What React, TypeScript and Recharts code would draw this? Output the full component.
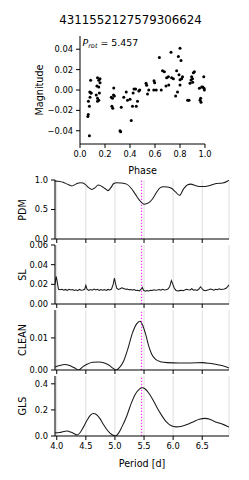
import React from 'react';
import {
  ScatterChart, Scatter, LineChart, Line, XAxis, YAxis, CartesianGrid, ReferenceLine,
} from 'recharts';

// ---------- data ----------
const TITLE = '4311552127579306624';
const P_ROT = 5.457;

const phases = [
  0.075, 0.063, 0.066, 0.067, 0.075, 0.080, 0.085, 0.078, 0.090, 0.087,
  0.140, 0.150, 0.160, 0.135, 0.150, 0.130, 0.140, 0.150, 0.140, 0.160, 0.155,
  0.270, 0.250, 0.260, 0.275, 0.255, 0.262, 0.268,
  0.320, 0.325, 0.330, 0.350, 0.370, 0.380, 0.400, 0.410, 0.420, 0.425, 0.432, 0.445, 0.450, 0.460, 0.470, 0.478,
  0.528, 0.533, 0.540, 0.550, 0.592, 0.597, 0.590, 0.610,
  0.635, 0.650, 0.660, 0.675, 0.688, 0.693, 0.707, 0.728, 0.733, 0.747, 0.710,
  0.765, 0.773, 0.780, 0.787, 0.800, 0.792, 0.800, 0.800, 0.808, 0.813, 0.820,
  0.861, 0.872, 0.880, 0.888, 0.893, 0.901, 0.907, 0.915, 0.900,
  0.955, 0.960, 0.965, 0.968, 0.973, 0.982, 0.990, 0.992, 0.995,
];
const mags = [
  -0.045, -0.026, -0.024, -0.011, -0.016, -0.007, 0.0095, -0.002, -0.003, -0.003,
  0.012, 0.0095, 0.007, 0.004, 0.003, -0.005, -0.008, -0.010, -0.011, 0.011, -0.003,
  0.002, -0.007, -0.008, -0.006, -0.016, -0.018, -0.005,
  -0.040, -0.041, -0.017, -0.007, -0.002, -0.010, -0.009, -0.030, -0.016, -0.003, 0.001, 0.001, -0.016, -0.011, -0.001, 0.000,
  0.0066, 0.0046, -0.004, 0.000, 0.009, 0.007, 0.000, 0.000,
  0.032, 0.000, 0.019, 0.018, 0.004, 0.012, 0.013, 0.037, 0.012, 0.011, 0.005,
  -0.006, 0.019, -0.002, 0.033, 0.041, 0.015, 0.010, 0.005, 0.029, 0.011, 0.013,
  -0.010, -0.010, 0.0066, 0.0098, 0.013, 0.0075, 0.017, 0.018, 0.011,
  0.0016, -0.010, -0.008, -0.012, 0.003, 0.003, 0.013, 0.0016, 0.000,
];

const phaseTicks = [0, 0.2, 0.4, 0.6, 0.8, 1.0];
const magTicks = [-0.04, -0.02, 0, 0.02, 0.04];
const periodTicks = [4.0, 4.5, 5.0, 5.5, 6.0, 6.5];

const pdmPeriods = [3.97, 4.00, 4.05, 4.11, 4.18, 4.26, 4.33, 4.40, 4.45, 4.49, 4.55, 4.60, 4.66, 4.71, 4.76, 4.80, 4.85, 4.88, 4.93, 4.98, 5.03, 5.10, 5.20, 5.28, 5.35, 5.42, 5.50, 5.55, 5.60, 5.66, 5.72, 5.78, 5.83, 5.90, 5.97, 6.04, 6.11, 6.18, 6.25, 6.30, 6.40, 6.51, 6.60, 6.74, 6.85, 6.93, 6.96];
const pdmValues = [0.985, 0.98, 0.975, 0.96, 0.93, 0.90, 0.93, 0.955, 0.95, 0.925, 0.87, 0.84, 0.87, 0.915, 0.90, 0.875, 0.84, 0.82, 0.87, 0.94, 0.955, 0.95, 0.93, 0.86, 0.76, 0.66, 0.59, 0.60, 0.63, 0.70, 0.80, 0.87, 0.885, 0.88, 0.86, 0.80, 0.74, 0.85, 0.92, 0.93, 0.90, 0.89, 0.90, 0.94, 0.95, 0.98, 1.0];

const slPeriods = [3.97, 3.99, 4.01, 4.03, 4.06, 4.09, 4.12, 4.15, 4.18, 4.21, 4.24, 4.27, 4.30, 4.33, 4.36, 4.39, 4.42, 4.45, 4.48, 4.50, 4.52, 4.55, 4.58, 4.61, 4.64, 4.67, 4.70, 4.73, 4.76, 4.79, 4.82, 4.85, 4.88, 4.91, 4.94, 4.97, 4.99, 5.01, 5.03, 5.06, 5.09, 5.12, 5.15, 5.18, 5.21, 5.24, 5.27, 5.30, 5.33, 5.36, 5.39, 5.42, 5.45, 5.47, 5.49, 5.52, 5.55, 5.58, 5.61, 5.64, 5.67, 5.70, 5.73, 5.76, 5.79, 5.82, 5.85, 5.88, 5.91, 5.94, 5.97, 5.99, 6.02, 6.05, 6.08, 6.11, 6.14, 6.17, 6.20, 6.23, 6.26, 6.29, 6.32, 6.35, 6.38, 6.41, 6.44, 6.47, 6.49, 6.52, 6.55, 6.58, 6.61, 6.64, 6.67, 6.70, 6.73, 6.76, 6.79, 6.82, 6.85, 6.88, 6.91, 6.94, 6.96];
const slValues = [0.020, 0.028, 0.022, 0.015, 0.0145, 0.015, 0.014, 0.0148, 0.0138, 0.015, 0.0142, 0.0147, 0.0138, 0.0145, 0.0135, 0.0148, 0.014, 0.0143, 0.0150, 0.0190, 0.0150, 0.0138, 0.0147, 0.0140, 0.0152, 0.0142, 0.0149, 0.0138, 0.0147, 0.0141, 0.0146, 0.0138, 0.0148, 0.0142, 0.0150, 0.0200, 0.0262, 0.0210, 0.0160, 0.0148, 0.0155, 0.0165, 0.0158, 0.0150, 0.0152, 0.0145, 0.0148, 0.0142, 0.0146, 0.0138, 0.0140, 0.0133, 0.0150, 0.0168, 0.0140, 0.0130, 0.0136, 0.0133, 0.0140, 0.0138, 0.0145, 0.0140, 0.0142, 0.0148, 0.0140, 0.0150, 0.0142, 0.0146, 0.0152, 0.0175, 0.0238, 0.0210, 0.0160, 0.0138, 0.0132, 0.0136, 0.0140, 0.0135, 0.0142, 0.0150, 0.0145, 0.0142, 0.0155, 0.0140, 0.0145, 0.0138, 0.0150, 0.0175, 0.0160, 0.0142, 0.0135, 0.0140, 0.0145, 0.0152, 0.0148, 0.0140, 0.0150, 0.0145, 0.0155, 0.0148, 0.0150, 0.0152, 0.0160, 0.0180, 0.0195];

const cleanPeriods = [3.97, 4.05, 4.14, 4.22, 4.30, 4.38, 4.44, 4.52, 4.62, 4.72, 4.82, 4.90, 4.97, 5.02, 5.08, 5.15, 5.22, 5.30, 5.37, 5.43, 5.48, 5.53, 5.58, 5.63, 5.70, 5.78, 5.90, 6.10, 6.30, 6.50, 6.62, 6.75, 6.85, 6.96];
const cleanValues = [0.0009, 0.0014, 0.0017, 0.0014, 0.0007, 0.0000, 0.0009, 0.0018, 0.0024, 0.0025, 0.0022, 0.0015, 0.0005, 0.0000, 0.0008, 0.0028, 0.0065, 0.0115, 0.0143, 0.0152, 0.0138, 0.0110, 0.0075, 0.0050, 0.0033, 0.0026, 0.0023, 0.0022, 0.0022, 0.0023, 0.0021, 0.0017, 0.0013, 0.0006];

const glsPeriods = [3.97, 4.05, 4.12, 4.18, 4.25, 4.30, 4.35, 4.40, 4.46, 4.52, 4.58, 4.63, 4.68, 4.74, 4.80, 4.86, 4.92, 4.97, 5.01, 5.06, 5.12, 5.20, 5.28, 5.35, 5.42, 5.47, 5.52, 5.58, 5.65, 5.72, 5.80, 5.88, 5.96, 6.05, 6.15, 6.25, 6.35, 6.45, 6.55, 6.63, 6.72, 6.82, 6.96];
const glsValues = [0.025, 0.027, 0.035, 0.038, 0.028, 0.018, 0.008, 0.025, 0.07, 0.12, 0.16, 0.172, 0.165, 0.135, 0.09, 0.05, 0.02, 0.005, 0.0, 0.02, 0.07, 0.15, 0.25, 0.32, 0.36, 0.37, 0.36, 0.33, 0.28, 0.22, 0.16, 0.11, 0.08, 0.07, 0.075, 0.09, 0.11, 0.128, 0.135, 0.128, 0.11, 0.095, 0.068];

// ---------- helpers ----------
const FONT = '"DejaVu Sans", "Liberation Sans", sans-serif';
const tickStyle = { fontFamily: FONT, fontSize: 8.3, fill: '#000' };
const fmt = (d: number) => (v: number) => (v < 0 ? '\u2212' : '') + Math.abs(v).toFixed(d);
const blank = () => '';

const scatterData = phases.map((p, i) => ({ phase: p, mag: mags[i] }));
const zip = (ps: number[], vs: number[]) => ps.map((p, i) => ({ p, v: vs[i] }));

const W = 249;
const H = 480;
const PLOT_L = 55;
const PLOT_R = 229;
const P_DOMAIN: [number, number] = [3.97, 6.96];

type PanelProps = {
  data: { p: number; v: number }[];
  top: number;
  bottom: number;
  yDomain: [number, number];
  yTicks: number[];
  yDigits: number;
  showX: boolean;
  curve: 'monotone' | 'linear';
};

const Panel = ({ data, top, bottom, yDomain, yTicks, yDigits, showX, curve }: PanelProps) => (
  <LineChart
    width={W}
    height={H}
    data={data}
    margin={{ top, bottom: H - bottom - 20, left: PLOT_L - 30, right: W - PLOT_R }}
    style={{ position: 'absolute', left: 0, top: 0 }}
  >
    <CartesianGrid horizontal={false} vertical stroke="#dedede" strokeWidth={1} />
    <XAxis
      dataKey="p"
      type="number"
      domain={P_DOMAIN}
      allowDataOverflow
      ticks={periodTicks}
      height={20}
      tickSize={4}
      tickMargin={3}
      tickFormatter={showX ? fmt(1) : blank}
      tick={tickStyle}
      axisLine={{ stroke: '#000' }}
      tickLine={{ stroke: '#000' }}
    />
    <XAxis
      xAxisId="top"
      orientation="top"
      type="number"
      domain={P_DOMAIN}
      allowDataOverflow
      height={0}
      tick={false}
      tickLine={false}
      axisLine={{ stroke: '#000' }}
    />
    <YAxis
      type="number"
      domain={yDomain}
      allowDataOverflow
      ticks={yTicks}
      width={30}
      tickSize={4}
      tickMargin={3}
      tickFormatter={fmt(yDigits)}
      tick={tickStyle}
      axisLine={{ stroke: '#000' }}
      tickLine={{ stroke: '#000' }}
    />
    <YAxis
      yAxisId="right"
      orientation="right"
      type="number"
      domain={yDomain}
      width={0}
      tick={false}
      tickLine={false}
      axisLine={{ stroke: '#000' }}
    />
    <ReferenceLine x={P_ROT} stroke="#ff33ff" strokeOpacity={1} strokeWidth={1.3} strokeDasharray="1.3 1.7" />
    <Line
      dataKey="v"
      type={curve}
      stroke="#1a1a1a"
      strokeWidth={1.05}
      dot={false}
      isAnimationActive={false}
    />
  </LineChart>
);

const labelBase: React.CSSProperties = {
  position: 'absolute',
  fontFamily: FONT,
  color: '#000',
  whiteSpace: 'nowrap',
  lineHeight: 1,
};

const VLabel = ({ text, x, y }: { text: string; x: number; y: number }) => (
  <div style={{ ...labelBase, left: x, top: y, fontSize: 9.6, transform: 'translate(-50%, -50%) rotate(-90deg)' }}>
    {text}
  </div>
);

const HLabel = ({ text, x, y, size }: { text: string; x: number; y: number; size: number }) => (
  <div style={{ ...labelBase, left: x, top: y, fontSize: size, transform: 'translate(-50%, -50%)' }}>
    {text}
  </div>
);

export default function App() {
  return (
    <div style={{ position: 'absolute', left: 0, top: 0, width: W, height: H, background: '#fff', overflow: 'hidden' }}>
      <HLabel text={TITLE} x={130.5} y={20.5} size={11.8} />

      <ScatterChart
        width={W}
        height={H}
        margin={{ top: 36, bottom: H - 144 - 20, left: 80 - 30, right: W - 205 }}
        style={{ position: 'absolute', left: 0, top: 0 }}
      >
        <XAxis
          dataKey="phase"
          type="number"
          domain={[0, 1]}
          ticks={phaseTicks}
          height={20}
          tickSize={4}
          tickMargin={3}
          tickFormatter={fmt(1)}
          tick={tickStyle}
          axisLine={{ stroke: '#000' }}
          tickLine={{ stroke: '#000' }}
        />
        <XAxis
          xAxisId="top"
          orientation="top"
          type="number"
          domain={[0, 1]}
          height={0}
          tick={false}
          tickLine={false}
          axisLine={{ stroke: '#000' }}
        />
        <YAxis
          dataKey="mag"
          type="number"
          domain={[-0.053, 0.053]}
          ticks={magTicks}
          width={30}
          tickSize={4}
          tickMargin={3}
          tickFormatter={fmt(2)}
          tick={tickStyle}
          axisLine={{ stroke: '#000' }}
          tickLine={{ stroke: '#000' }}
        />
        <YAxis
          yAxisId="right"
          orientation="right"
          type="number"
          domain={[-0.053, 0.053]}
          width={0}
          tick={false}
          tickLine={false}
          axisLine={{ stroke: '#000' }}
        />
        <Scatter
          data={scatterData}
          isAnimationActive={false}
          shape={(props: any) => <circle cx={props.cx} cy={props.cy} r={1.5} fill="#000" />}
        />
      </ScatterChart>

      <div style={{ ...labelBase, left: 82.5, top: 38, fontSize: 9.4 }}>
        <i>P</i>
        <i style={{ fontSize: 6.6, position: 'relative', top: 2 }}>rot</i>
        {' = 5.457'}
      </div>

      <VLabel text="Magnitude" x={40} y={90} />
      <HLabel text="Phase" x={142.5} y={170.5} size={9.6} />

      <Panel data={zip(pdmPeriods, pdmValues)} top={180} bottom={239} yDomain={[0, 1]} yTicks={[0, 0.5, 1]} yDigits={1} showX={false} curve="monotone" />
      <Panel data={zip(slPeriods, slValues)} top={245} bottom={304} yDomain={[0, 0.06]} yTicks={[0, 0.02, 0.04, 0.06]} yDigits={2} showX={false} curve="linear" />
      <Panel data={zip(cleanPeriods, cleanValues)} top={310} bottom={370} yDomain={[0, 0.0187]} yTicks={[0, 0.01]} yDigits={2} showX={false} curve="monotone" />
      <Panel data={zip(glsPeriods, glsValues)} top={376} bottom={436} yDomain={[0, 0.46]} yTicks={[0, 0.2, 0.4]} yDigits={1} showX curve="monotone" />

      <VLabel text="PDM" x={23} y={209.5} />
      <VLabel text="SL" x={23} y={274.5} />
      <VLabel text="CLEAN" x={23} y={340} />
      <VLabel text="GLS" x={23} y={406} />
      <HLabel text="Period [d]" x={142} y={464} size={9.6} />
    </div>
  );
}
